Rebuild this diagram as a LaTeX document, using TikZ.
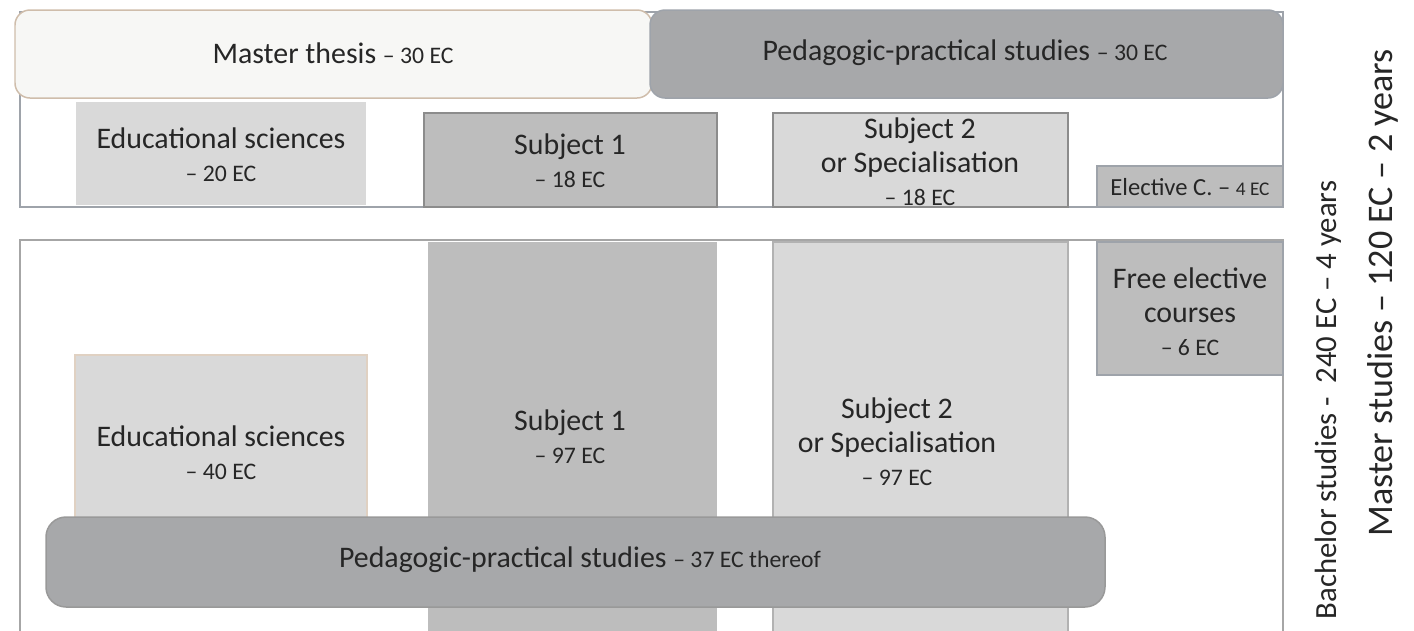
\documentclass[tikz,border=0pt]{standalone}
\usepackage{fontspec}
\setmainfont{Carlito}
\definecolor{paleface}{HTML}{F7F7F5}
\definecolor{darkblock}{HTML}{A7A8AA}
\definecolor{midblock}{HTML}{BDBDBD}
\definecolor{lightblock}{HTML}{D9D9D9}
\definecolor{framegray}{HTML}{9EA3AA}
\definecolor{inkgray}{HTML}{262626}
\tikzset{
	ectext/.style={text=inkgray, align=center, font=\fontsize{17}{19}\selectfont},
	sidetext/.style={text=inkgray, rotate=90},
}
\newcommand{\ecpts}[1]{{\fontsize{13.5}{19}\selectfont #1}}

\begin{document}
\begin{tikzpicture}[x=0.02cm, y=-0.02cm]
		%%%%% START %%%%%
		\useasboundingbox (0, 0) rectangle (1414, 630);
		
		% master studies
		\draw[line width=0.3mm, color=framegray] (20, 12) rectangle (1283, 207);
		\draw[line width=0.3mm, color=black!30!brown!40, fill=paleface, rounded corners=3mm] (15, 10) rectangle (652, 98);
		\draw[line width=0.3mm, color=framegray, fill=darkblock, rounded corners=3mm] (650, 10) rectangle (1283, 98);
		\node[ectext] (mthesis) at (333, 53) {Master thesis \ecpts{– 30 EC}};
		\node[ectext] (mpract) at (965, 53) {Pedagogic-practical studies \ecpts{– 30 EC}};
		
		\fill[lightblock] (76, 102) rectangle (366, 205);
		\draw[line width=0.3mm, color=black!45, fill=midblock] (424, 113) rectangle (717, 207);
		\draw[line width=0.3mm, color=black!45, fill=lightblock] (773, 113) rectangle (1068, 207);
		\draw[line width=0.3mm, color=framegray, fill=midblock] (1097, 166) rectangle (1283, 207);
		\node[ectext] (medu) at (221, 155) {Educational sciences\\\ecpts{– 20 EC}};
		\node[ectext] (msubone) at (570, 161) {Subject 1\\\ecpts{– 18 EC}};
		\node[ectext] (msubtwo) at (920, 162) {Subject 2\\or Specialisation\\\ecpts{– 18 EC}};
		\node[ectext, font=\fontsize{14}{16}\selectfont] (melect) at (1190, 187) {Elective C. – {\fontsize{11}{13}\selectfont 4 EC}};
		
		% bachelor studies
		\draw[line width=0.3mm, color=black!35] (20, 632) -- (20, 240) -- (1283, 240) -- (1283, 632);
		\fill[midblock] (428, 242) rectangle (717, 632);
		\draw[line width=0.3mm, color=black!30, fill=lightblock] (773, 242) rectangle (1068, 632);
		\draw[line width=0.3mm, color=framegray, fill=midblock] (1097, 242) rectangle (1283, 375);
		\draw[line width=0.3mm, color=black!20!brown!30, fill=lightblock] (75, 355) rectangle (367, 540);
		\draw[line width=0.3mm, color=black!40, fill=darkblock, rounded corners=4mm] (46, 517) rectangle (1105, 607);
		
		\node[ectext] (bedu) at (221, 453) {Educational sciences\\\ecpts{– 40 EC}};
		\node[ectext] (bsubone) at (570, 437) {Subject 1\\\ecpts{– 97 EC}};
		\node[ectext] (bsubtwo) at (897, 442) {Subject 2\\or Specialisation\\\ecpts{– 97 EC}};
		\node[ectext] (bfree) at (1190, 312) {Free elective\\courses\\\ecpts{– 6 EC}};
		\node[ectext] (bpract) at (580, 560) {Pedagogic-practical studies \ecpts{– 37 EC thereof}};
		
		% side labels
		\node[sidetext, font=\fontsize{17.5}{20}\selectfont] (bachelor) at (1328, 400) {Bachelor studies -\ \ 240 EC – 4 years};
		\node[sidetext, font=\fontsize{20.5}{24}\selectfont] (master) at (1383, 293) {Master studies – 120 EC – 2 years};
		
		%%%%% END %%%%%
	\end{tikzpicture}
\end{document}
